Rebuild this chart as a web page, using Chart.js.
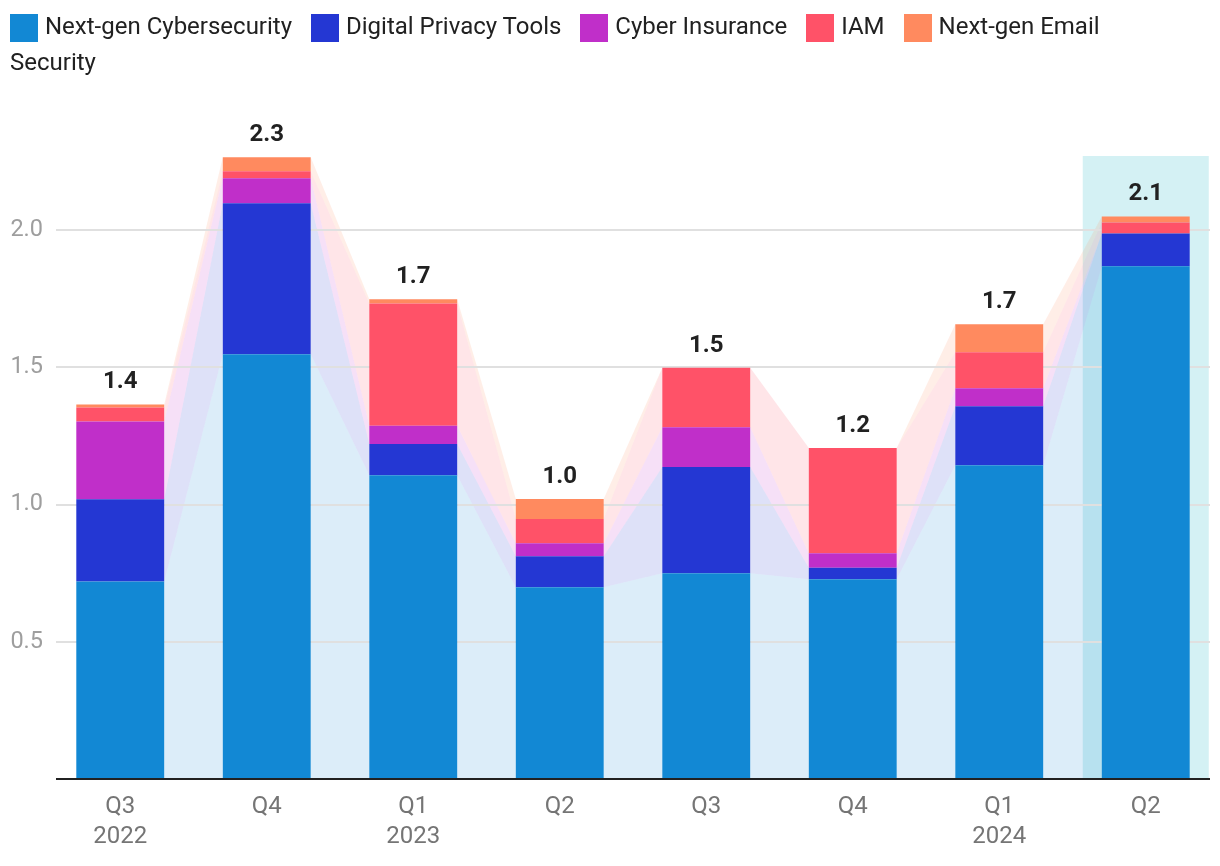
<!DOCTYPE html>
<html>
<head>
<meta charset="utf-8">
<title>Cybersecurity funding by quarter</title>
<script src="https://cdn.jsdelivr.net/npm/chart.js@4.4.1/dist/chart.umd.min.js"></script>
<style>
  body{ margin:0; background:#fff; font-family:Roboto, sans-serif; }
  #wrap{ position:relative; width:1220px; height:866px; }
  #graphicFirst{ position:absolute; left:0; top:0; }
  #legend{ position:absolute; left:10px; top:8px; width:1150px; font-size:24px; line-height:36px; color:#212121; }
  #legend .item{ margin-right:13px; }
  #legend i{ display:inline-block; width:28px; height:28px; margin-right:7px; vertical-align:-7.7px; }
</style>
</head>
<body>
<div id="wrap">
  <canvas id="graphicFirst" width="1220" height="866"></canvas>
  <div id="legend"></div>
</div>
<script>
// Stacked bars per quarter, bands joining the segments

const categories = [['Q3','2022'], 'Q4', ['Q1','2023'], 'Q2', 'Q3', 'Q4', ['Q1','2024'], 'Q2'];
const cyberValues = [0.72, 1.548, 1.107, 0.699, 0.75, 0.728, 1.143, 1.868];
const privacyValues = [0.299, 0.55, 0.114, 0.113, 0.387, 0.042, 0.215, 0.12];
const insuranceValues = [0.284, 0.091, 0.066, 0.047, 0.145, 0.053, 0.066, 0];
const iamValues = [0.051, 0.025, 0.446, 0.088, 0.216, 0.383, 0.131, 0.04];
const emailValues = [0.011, 0.051, 0.015, 0.073, 0, 0, 0.102, 0.022];
const totalLabels = ['1.4', '2.3', '1.7', '1.0', '1.5', '1.2', '1.7', '2.1'];
const yTicks = [0.5, 1.0, 1.5, 2.0];
const yMax = 2.27;
const highlightIndex = 7;

const seriesNames = ['Next-gen Cybersecurity', 'Digital Privacy Tools', 'Cyber Insurance', 'IAM', 'Next-gen Email Security'];
const seriesColors = ['#1288d4', '#2437d3', '#c02fc9', '#ff5268', '#ff8a5f'];
const seriesValues = [cyberValues, privacyValues, insuranceValues, iamValues, emailValues];

Chart.defaults.font.family = 'Roboto';

//---LEGEND
let legendNode = document.getElementById('legend');
legendNode.innerHTML = seriesNames.map(function(name, i){
  return '<span class="item"><i style="background:' + seriesColors[i] + '"></i>' + name + '</span>';
}).join(' ');

function hexToRgba(hex, a){
  let n = parseInt(hex.slice(1), 16);
  return 'rgba(' + (n >> 16) + ',' + ((n >> 8) & 255) + ',' + (n & 255) + ',' + a + ')';
}

//---BACKGROUND: highlight column, joining bands, grid lines
const backPlugin = {
  id: 'backPlugin',
  beforeDatasetsDraw(chart){
    let ctx = chart.ctx;
    let area = chart.chartArea;
    let yScale = chart.scales.y;
    ctx.save();

    let hl = chart.getDatasetMeta(0).data[highlightIndex];
    ctx.fillStyle = '#d4f1f4';
    ctx.fillRect(hl.x - 63, area.top, 126, area.bottom - area.top);

    chart.data.datasets.forEach(function(ds, d){
      let bars = chart.getDatasetMeta(d).data;
      ctx.fillStyle = hexToRgba(seriesColors[d], 0.15);
      for (let i = 0; i < bars.length - 1; i++){
        let a = bars[i], b = bars[i + 1];
        ctx.beginPath();
        ctx.moveTo(a.x + a.width / 2, a.base);
        ctx.lineTo(a.x + a.width / 2, a.y);
        ctx.lineTo(b.x - b.width / 2, b.y);
        ctx.lineTo(b.x - b.width / 2, b.base);
        ctx.closePath();
        ctx.fill();
      }
    });

    ctx.strokeStyle = '#e0e0e0';
    ctx.lineWidth = 2;
    yTicks.forEach(function(v){
      let y = Math.round(yScale.getPixelForValue(v));
      ctx.beginPath();
      ctx.moveTo(area.left + 9, y);
      ctx.lineTo(area.right - 9, y);
      ctx.stroke();
    });
    ctx.restore();
  },
  afterDatasetsDraw(chart){
    let ctx = chart.ctx;
    let area = chart.chartArea;
    ctx.save();
    //---axis line
    ctx.strokeStyle = '#212121';
    ctx.lineWidth = 2;
    ctx.beginPath();
    ctx.moveTo(area.left + 9, area.bottom);
    ctx.lineTo(area.right - 9, area.bottom);
    ctx.stroke();

    //---totals above the bars
    let topMeta = chart.getDatasetMeta(chart.data.datasets.length - 1);
    ctx.fillStyle = '#212121';
    ctx.font = 'bold 24px Roboto';
    ctx.textAlign = 'center';
    ctx.textBaseline = 'alphabetic';
    topMeta.data.forEach(function(bar, i){
      ctx.fillText(totalLabels[i], bar.x, bar.y - 16);
    });
    ctx.restore();
  }
};

//-----GRAPHIC
let ctx = document.getElementById('graphicFirst').getContext('2d');
let chart1 = new Chart(ctx, {
  type: 'bar',
  data: {
    labels: categories,
    datasets: seriesValues.map(function(vals, i){
      return {
        label: seriesNames[i],
        data: vals,
        backgroundColor: seriesColors[i],
        borderWidth: 0,
        barPercentage: 0.6,
        categoryPercentage: 1
      };
    })
  },
  plugins: [backPlugin],
  options: {
    responsive: false,
    animation: false,
    layout: { padding: { top: 156, left: 10, right: 1, bottom: 0 } },
    plugins: { legend: { display: false }, tooltip: { enabled: false } },
    scales: {
      x: {
        stacked: true,
        grid: { display: false, drawTicks: false },
        border: { display: false },
        ticks: {
          color: '#757575',
          font: { size: 24, lineHeight: 1.25 },
          padding: 13,
          maxRotation: 0,
          autoSkip: false
        },
        afterFit(scale){ scale.height = 87; }
      },
      y: {
        stacked: true,
        min: 0,
        max: yMax,
        grid: { display: false, drawTicks: false },
        border: { display: false },
        afterBuildTicks(scale){
          scale.ticks = yTicks.map(function(v){ return { value: v }; });
        },
        ticks: {
          color: '#9e9e9e',
          font: { size: 23.5 },
          padding: 4,
          callback: function(v){ return Number(v).toFixed(1); }
        },
        afterFit(scale){ scale.width = 37; }
      }
    }
  }
});
</script>
</body>
</html>
